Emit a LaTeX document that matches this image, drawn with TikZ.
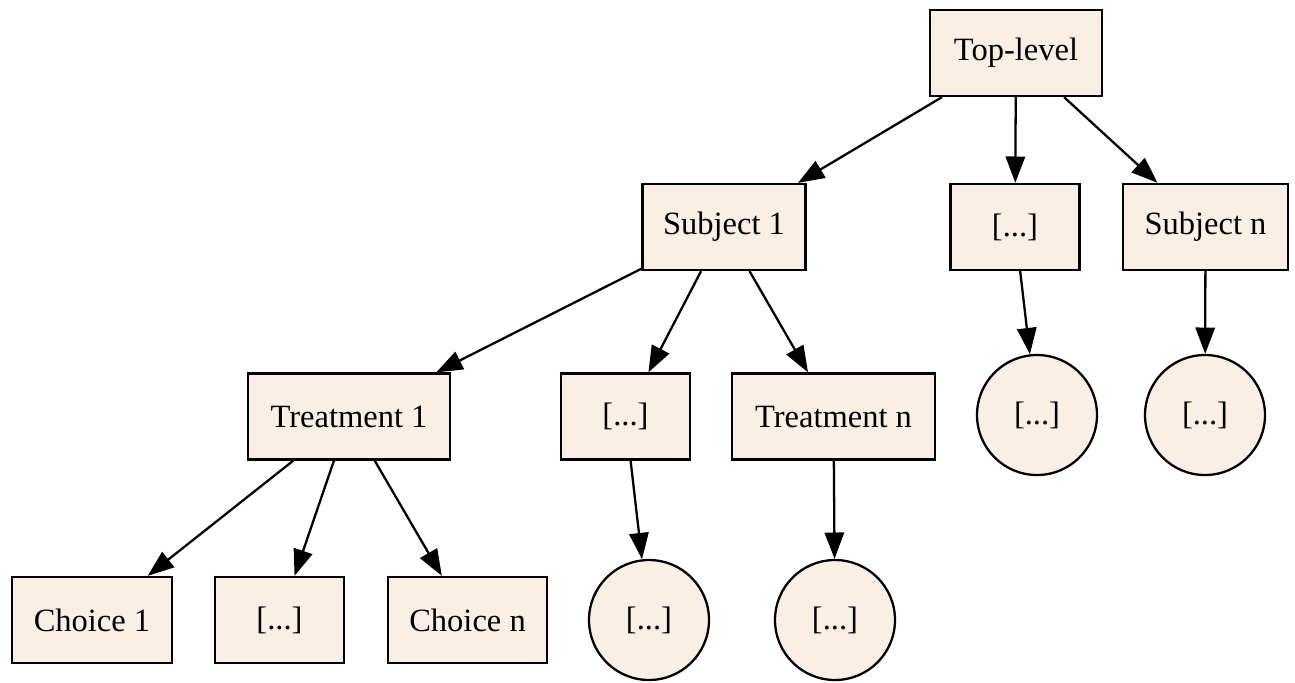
\documentclass[tikz,border=0pt]{standalone}
\usepackage{fontspec}
\setmainfont{Liberation Serif}
\usetikzlibrary{arrows.meta}
\definecolor{boxfill}{HTML}{FAEFE4}

\begin{document}
\begin{tikzpicture}[
    box/.style = {draw, line width = 1.3pt, fill = boxfill, minimum height = 1.72cm,
      font = \fontsize{18.5}{21}\selectfont, inner sep = 0pt},
    leaf/.style = {draw, line width = 1.3pt, fill = boxfill, circle, minimum size = 2.4cm,
      font = \fontsize{18.5}{21}\selectfont, inner sep = 0pt},
    edge/.style = {line width = 1.3pt, -{Triangle[length = 15pt, width = 11pt]}}
  ]
    \useasboundingbox (0, 0) rectangle (25.9, -13.64);
    % top level
    \node [box, minimum width = 3.44cm] (top) at (20.32, -1.06) {Top-level};
    % subjects
    \node [box, minimum width = 3.26cm] (subj1) at (14.48, -4.54) {Subject 1};
    \node [box, minimum width = 2.58cm] (subjm) at (20.30, -4.54) {[...]};
    \node [box, minimum width = 3.30cm] (subjn) at (24.11, -4.54) {Subject n};
    % treatments
    \node [box, minimum width = 4.04cm] (treat1) at (6.98, -8.33) {Treatment 1};
    \node [box, minimum width = 2.58cm] (treatm) at (12.51, -8.33) {[...]};
    \node [box, minimum width = 4.06cm] (treatn) at (16.67, -8.33) {Treatment n};
    \node [leaf] (leafsm) at (20.74, -8.30) {[...]};
    \node [leaf] (leafsn) at (24.10, -8.30) {[...]};
    % choices
    \node [box, minimum width = 3.20cm] (choice1) at (1.84, -12.40) {Choice 1};
    \node [box, minimum width = 2.58cm] (choicem) at (5.59, -12.40) {[...]};
    \node [box, minimum width = 3.18cm] (choicen) at (9.35, -12.40) {Choice n};
    \node [leaf] (leaftm) at (12.98, -12.40) {[...]};
    \node [leaf] (leaftn) at (16.70, -12.40) {[...]};

    \draw [edge] (top) -- (subj1);
    \draw [edge] (top) -- (subjm);
    \draw [edge] (top) -- (subjn);
    \draw [edge] (subj1) -- (treat1);
    \draw [edge] (subj1) -- (treatm);
    \draw [edge] (subj1) -- (treatn);
    \draw [edge] (subjm) -- (leafsm);
    \draw [edge] (subjn) -- (leafsn);
    \draw [edge] (treat1) -- (choice1);
    \draw [edge] (treat1) -- (choicem);
    \draw [edge] (treat1) -- (choicen);
    \draw [edge] (treatm) -- (leaftm);
    \draw [edge] (treatn) -- (leaftn);
  \end{tikzpicture}
\end{document}
